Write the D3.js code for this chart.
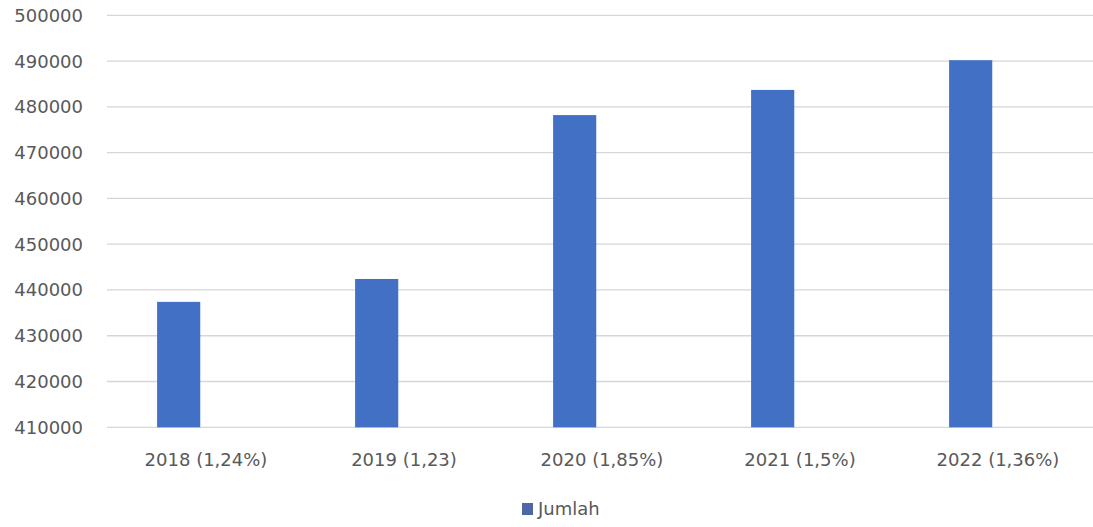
<!DOCTYPE html>
<html>
<head>
<meta charset="utf-8">
<script src="https://cdn.jsdelivr.net/npm/d3@7"></script>
<style>
  html, body { margin: 0; padding: 0; background: #fff; }
  svg { display: block; }
  text { font-family: "DejaVu Sans", sans-serif; fill: #595959; }
</style>
</head>
<body>
<div id="chart"></div>
<script>
// data
var categories = ['2018 (1,24%)', '2019 (1,23)', '2020 (1,85%)', '2021 (1,5%)', '2022 (1,36%)'];
var jumlah = [437400, 442400, 478200, 483700, 490200];
var yTicks = [410000, 420000, 430000, 440000, 450000, 460000, 470000, 480000, 490000, 500000];
var seriesName = 'Jumlah';

var chartW = 1093, chartH = 527;
var plotLeft = 107, plotTop = 15.3, plotBottom = 427.3;

var svg = d3.select('#chart')
  .append('svg')
  .attr('width', chartW)
  .attr('height', chartH);

var x = d3.scaleBand()
  .domain(categories)
  .range([plotLeft, plotLeft + 5 * 198]);

var y = d3.scaleLinear()
  .domain([410000, 500000])
  .range([plotBottom, plotTop]);

// gridlines
svg.append('g')
  .selectAll('line')
  .data(yTicks)
  .enter().append('line')
  .attr('x1', plotLeft)
  .attr('x2', chartW)
  .attr('y1', function(d) { return y(d); })
  .attr('y2', function(d) { return y(d); })
  .attr('stroke', '#d6d6d6')
  .attr('stroke-width', 1.3);

// y axis labels
svg.append('g')
  .selectAll('text')
  .data(yTicks)
  .enter().append('text')
  .attr('x', 83)
  .attr('y', function(d) { return y(d); })
  .attr('dy', '0.36em')
  .attr('text-anchor', 'end')
  .style('font-size', '18px')
  .text(function(d) { return d; });

// bars (Excel style: bar sits in the left part of each category)
var bw = x.bandwidth();
svg.append('g')
  .selectAll('rect')
  .data(jumlah)
  .enter().append('rect')
  .attr('x', function(d, i) { return x(categories[i]) + bw * 0.253; })
  .attr('width', bw * 0.218)
  .attr('y', function(d) { return y(d); })
  .attr('height', function(d) { return y(410000) - y(d); })
  .attr('fill', '#4270c4');

// category labels
svg.append('g')
  .selectAll('text')
  .data(categories)
  .enter().append('text')
  .attr('x', function(d) { return x(d) + bw / 2; })
  .attr('y', 460)
  .attr('dy', '0.36em')
  .attr('text-anchor', 'middle')
  .style('font-size', '18px')
  .text(function(d) { return d; });

// legend
var legend = svg.append('g').attr('transform', 'translate(522,503)');
legend.append('rect')
  .attr('width', 11)
  .attr('height', 12)
  .attr('fill', '#4e68a6');
legend.append('text')
  .attr('x', 16)
  .attr('y', 6)
  .attr('dy', '0.36em')
  .style('font-size', '18px')
  .text(seriesName);
</script>
</body>
</html>
